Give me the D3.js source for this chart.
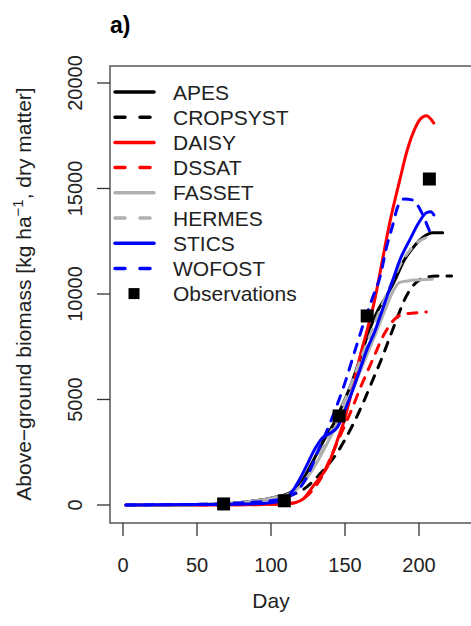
<!DOCTYPE html>
<html>
<head>
<meta charset="utf-8">
<script src="https://cdn.jsdelivr.net/npm/d3@7"></script>
<style>
  body { margin: 0; background: #fff; }
  svg { font-family: "Liberation Sans", Arial, sans-serif; }
</style>
</head>
<body>
<svg id="chart" width="471" height="626"></svg>
<script>
// --- Data ---
const apesDay = [2, 30, 60, 80, 95, 105, 112, 118, 124, 130, 136, 142, 148, 154, 160, 166, 172, 178, 184, 190, 196, 203, 209, 216];
const apesBio = [0, 0, 40, 120, 250, 400, 550, 850, 1500, 2300, 3100, 3800, 4700, 5700, 6900, 8200, 9200, 9900, 10700, 11600, 12200, 12700, 12900, 12900];

const cropsystDay = [2, 30, 60, 80, 95, 105, 112, 120, 128, 136, 144, 150, 156, 162, 168, 174, 180, 186, 190, 195, 200, 205, 212, 222];
const cropsystBio = [0, 0, 40, 120, 250, 350, 450, 650, 1100, 1700, 2400, 3100, 3900, 4800, 5800, 6800, 7900, 9000, 9700, 10300, 10650, 10800, 10850, 10850];

const daisyDay = [2, 40, 80, 100, 110, 116, 122, 128, 133, 138, 142, 145, 149, 155, 160, 165, 170, 175, 180, 187, 192, 197, 201, 205, 210];
const daisyBio = [0, 0, 10, 30, 50, 100, 300, 850, 1300, 1800, 2500, 3100, 3900, 5500, 7000, 8300, 9700, 11500, 13300, 15400, 16800, 17800, 18300, 18450, 18100];

const dssatDay = [2, 40, 80, 100, 115, 122, 128, 134, 140, 145, 150, 155, 160, 165, 170, 175, 180, 185, 190, 197, 205];
const dssatBio = [0, 0, 10, 30, 100, 300, 700, 1300, 2200, 3000, 3800, 4600, 5500, 6300, 7100, 7900, 8500, 8900, 9050, 9100, 9150];

const fassetDay = [2, 30, 60, 80, 95, 105, 112, 120, 130, 140, 150, 160, 170, 178, 183, 187, 195, 209];
const fassetBio = [0, 0, 40, 120, 250, 380, 500, 900, 1900, 3200, 4600, 6300, 8000, 9400, 10200, 10550, 10650, 10700];

const hermesDay = [2, 30, 60, 80, 95, 105, 112, 120, 130, 140, 150, 160, 170, 180, 190, 200, 206];
const hermesBio = [0, 0, 40, 120, 250, 380, 500, 900, 2000, 3400, 5000, 6800, 8600, 10300, 11700, 12500, 12700];

const sticsDay = [2, 50, 90, 104, 110, 115, 120, 125, 130, 135, 140, 145, 150, 155, 160, 165, 170, 175, 182, 187, 194, 200, 205, 208, 210];
const sticsBio = [0, 20, 60, 150, 300, 700, 1300, 2000, 2700, 3200, 3400, 3700, 4500, 5400, 6400, 7400, 8200, 9200, 10600, 11600, 12600, 13400, 13850, 13900, 13750];

const wofostDay = [2, 50, 100, 110, 117, 124, 132, 140, 150, 158, 163, 168, 174, 178, 182, 186, 190, 196, 200, 205, 207];
const wofostBio = [0, 30, 200, 350, 600, 1300, 2600, 3900, 5800, 7600, 8700, 9700, 10900, 12200, 13200, 14200, 14500, 14450, 14100, 13350, 13000];

const obsDay = [68, 109, 146, 165, 207];
const obsBio = [50, 200, 4220, 8960, 15450];

const xTicks = [0, 50, 100, 150, 200];
const yTicks = [0, 5000, 10000, 15000, 20000];

const modelNames = ["APES", "CROPSYST", "DAISY", "DSSAT", "FASSET", "HERMES", "STICS", "WOFOST"];
const modelColors = ["#000000", "#000000", "#ff0000", "#ff0000", "#b0b0b0", "#b0b0b0", "#0000ff", "#0000ff"];
const modelDashed = [false, true, false, true, false, true, false, true];

const series = [
    [apesDay, apesBio], [cropsystDay, cropsystBio], [daisyDay, daisyBio], [dssatDay, dssatBio],
    [fassetDay, fassetBio], [hermesDay, hermesBio], [sticsDay, sticsBio], [wofostDay, wofostBio],
];

// --- Layout ---
const svg = d3.select("#chart");
const box = { left: 110, top: 66, bottom: 523, right: 480 };

const x = d3.scaleLinear().domain([0, 200]).range([123, 419]);
const y = d3.scaleLinear().domain([0, 20000]).range([505, 83]);

const dash = "9,9";

// plot box (right edge is cut off in the original)
svg.append("rect")
    .attr("x", box.left).attr("y", box.top)
    .attr("width", box.right - box.left).attr("height", box.bottom - box.top)
    .attr("fill", "none").attr("stroke", "#555").attr("stroke-width", 1.5);

// y axis ticks + rotated labels
yTicks.forEach((t) => {
    svg.append("line")
        .attr("x1", 97).attr("x2", box.left)
        .attr("y1", y(t)).attr("y2", y(t))
        .attr("stroke", "#333").attr("stroke-width", 1.3);
    svg.append("text")
        .attr("transform", `translate(82,${y(t)}) rotate(-90)`)
        .attr("text-anchor", "middle")
        .attr("font-size", 20).attr("fill", "#222")
        .text(t);
});

// x axis ticks + labels
xTicks.forEach((t) => {
    svg.append("line")
        .attr("x1", x(t)).attr("x2", x(t))
        .attr("y1", box.bottom).attr("y2", 536)
        .attr("stroke", "#333").attr("stroke-width", 1.3);
    svg.append("text")
        .attr("x", x(t)).attr("y", 572)
        .attr("text-anchor", "middle")
        .attr("font-size", 20).attr("fill", "#222")
        .text(t);
});

svg.append("text")
    .attr("x", x(100) + 0).attr("y", 608)
    .attr("text-anchor", "middle")
    .attr("font-size", 21).attr("fill", "#222")
    .text("Day");

const ylab = svg.append("text")
    .attr("transform", `translate(31,${(y(0) + y(20000)) / 2}) rotate(-90)`)
    .attr("text-anchor", "middle")
    .attr("font-size", 21).attr("fill", "#222");
ylab.append("tspan").text("Above\u2212ground biomass [kg  ha");
ylab.append("tspan").attr("dy", -8).attr("font-size", 15).text("\u22121");
ylab.append("tspan").attr("dy", 8).text(", dry matter]");

svg.append("text")
    .attr("x", 110).attr("y", 33)
    .attr("font-size", 23).attr("font-weight", "bold")
    .text("a)");

// --- Curves ---
const line = d3.line()
    .x((d) => x(d[0]))
    .y((d) => y(d[1]))
    .curve(d3.curveMonotoneX);

series.forEach(([days, vals], i) => {
    const pts = days.map((d, j) => [d, vals[j]]);
    svg.append("path")
        .attr("d", line(pts))
        .attr("fill", "none")
        .attr("stroke", modelColors[i])
        .attr("stroke-width", 3)
        .attr("stroke-linecap", "round")
        .attr("stroke-linejoin", "round")
        .attr("stroke-dasharray", modelDashed[i] ? dash : null);
});

// observations
const sq = 13;
svg.selectAll(".obs")
    .data(obsDay.map((d, j) => [d, obsBio[j]]))
    .enter()
    .append("rect")
    .attr("class", "obs")
    .attr("x", (d) => x(d[0]) - sq / 2)
    .attr("y", (d) => y(d[1]) - sq / 2)
    .attr("width", sq).attr("height", sq)
    .attr("fill", "#000");

// --- Legend ---
const legY0 = 92;
const legStep = 25.2;
modelNames.forEach((name, i) => {
    const ly = legY0 + i * legStep;
    svg.append("line")
        .attr("x1", 115).attr("x2", 154)
        .attr("y1", ly).attr("y2", ly)
        .attr("stroke", modelColors[i])
        .attr("stroke-width", 3.5)
        .attr("stroke-linecap", "round")
        .attr("stroke-dasharray", modelDashed[i] ? "10,15" : null);
    svg.append("text")
        .attr("x", 173).attr("y", ly + 7.5)
        .attr("font-size", 21).attr("fill", "#222")
        .text(name);
});
const obsLegY = legY0 + modelNames.length * legStep;
svg.append("rect")
    .attr("x", 134 - 5.5).attr("y", obsLegY - 5.5)
    .attr("width", 11).attr("height", 11)
    .attr("fill", "#000");
svg.append("text")
    .attr("x", 173).attr("y", obsLegY + 7.5)
    .attr("font-size", 21).attr("fill", "#222")
    .text("Observations");
</script>
</body>
</html>
